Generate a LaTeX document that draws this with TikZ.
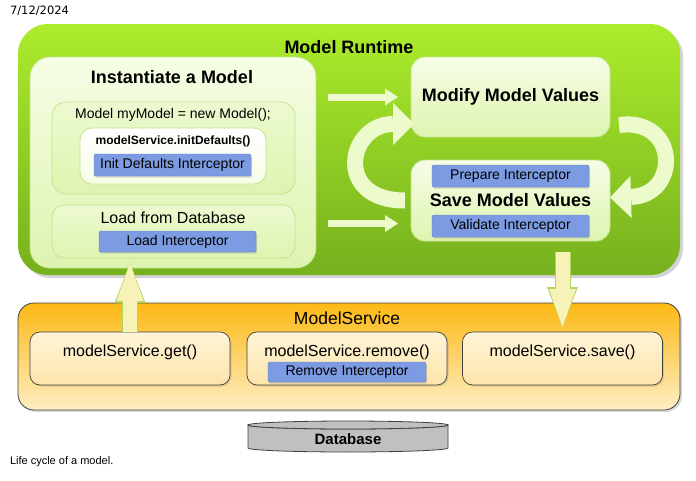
\documentclass[tikz,border=0pt]{standalone}
\usepackage{fontspec}
\setmainfont{Liberation Sans}
\newfontfamily\datefont{DejaVu Sans}
\usetikzlibrary{arrows.meta,shadows}

\definecolor{rtTop}{RGB}{172,236,44}
\definecolor{rtBot}{RGB}{118,176,30}
\definecolor{paleTop}{RGB}{246,253,230}
\definecolor{paleBot}{RGB}{222,244,176}
\definecolor{paleEdge}{RGB}{196,228,140}
\definecolor{icBlue}{RGB}{125,155,226}
\definecolor{icEdge}{RGB}{98,128,200}
\definecolor{svcTop}{RGB}{253,184,19}
\definecolor{svcBot}{RGB}{254,238,196}
\definecolor{subTop}{RGB}{255,244,216}
\definecolor{subBot}{RGB}{253,228,170}
\definecolor{darkEdge}{RGB}{64,64,64}
\definecolor{arrowPale}{RGB}{236,250,204}
\definecolor{arrowYel}{RGB}{246,242,184}
\definecolor{arrowEdge}{RGB}{176,214,96}
\definecolor{dbGray}{RGB}{192,192,192}

\begin{document}
\begin{tikzpicture}[x=1pt,y=-1pt,
	every node/.style={inner sep=0pt,outer sep=0pt},
	rtbox/.style={rounded corners=30pt,top color=rtTop,bottom color=rtBot,
		drop shadow={shadow xshift=3pt,shadow yshift=-3pt,opacity=0.35}},
	palebox/.style={rounded corners=16pt,top color=paleTop,bottom color=paleBot,draw=paleEdge,line width=0.8pt},
	whitebox/.style={rounded corners=12pt,top color=white,bottom color=paleTop,draw=paleEdge,line width=0.8pt},
	icbox/.style={rounded corners=1.5pt,fill=icBlue,draw=icEdge,line width=0.4pt,
		minimum width=157pt,minimum height=22pt,font=\fontsize{14}{16}\selectfont,
		drop shadow={shadow xshift=1pt,shadow yshift=-1.5pt,opacity=0.3}},
	svcbox/.style={rounded corners=16pt,top color=svcTop,bottom color=svcBot,draw=darkEdge,line width=0.8pt,
		drop shadow={shadow xshift=2pt,shadow yshift=-2pt,opacity=0.3}},
	subbox/.style={rounded corners=10pt,top color=subTop,bottom color=subBot,draw=darkEdge,line width=0.7pt,
		minimum width=200pt,minimum height=53pt,
		drop shadow={shadow xshift=1.5pt,shadow yshift=-1.5pt,opacity=0.25}},
	bigtitle/.style={font=\fontsize{18}{21}\selectfont\bfseries},
	plaintext/.style={font=\fontsize{14}{17}\selectfont},
	subtext/.style={font=\fontsize{16}{19}\selectfont},
	flatarrow/.style={draw=arrowPale,line width=7pt,-{Triangle[length=13pt,width=17pt,line width=0pt]},
		shorten <=12pt,shorten >=13pt},
	curvearrow/.style={draw=arrowPale,line width=16pt,-{Triangle[length=21pt,width=42pt,line width=0pt]}},
	vbarrow/.style={draw=arrowYel,line width=14pt,-{Triangle[length=38pt,width=27pt,line width=0pt]},
		preaction={draw=arrowEdge,line width=16pt,-{Triangle[length=40pt,width=31pt,line width=0pt]}}}]
\useasboundingbox (0,0) rectangle (696,480);

\node[anchor=west,font=\datefont\fontsize{11.5}{13}\selectfont] (date) at (10,11) {7/12/2024};

% runtime part
\node[rtbox,minimum width=662pt,minimum height=251pt] (runtime) at (349,149.5) {};
\node[bigtitle] (rttitle) at (349,47) {Model Runtime};

\node[palebox,rounded corners=20pt,minimum width=286pt,minimum height=211pt] (inst) at (173,162.5) {};
\node[bigtitle] (insttitle) at (172,77) {Instantiate a Model};

\node[palebox,rounded corners=14pt,minimum width=243pt,minimum height=92pt,top color=paleTop!60!paleBot] (newbox) at (173.5,148) {};
\node[plaintext] (newtext) at (173,115) {Model myModel = new Model();};
\node[whitebox,minimum width=186pt,minimum height=56pt] (initbox) at (173,156) {};
\node[font=\fontsize{12}{14}\selectfont\bfseries] (inittext) at (173,141) {modelService.initDefaults()};
\node[icbox] (initic) at (172.5,165) {Init Defaults Interceptor};

\node[palebox,rounded corners=12pt,minimum width=243pt,minimum height=53pt,top color=paleTop!60!paleBot] (loadbox) at (173.5,231.5) {};
\node[subtext] (loadtext) at (173,218) {Load from Database};
\node[icbox,minimum height=21pt] (loadic) at (177.5,241.5) {Load Interceptor};

\node[palebox,rounded corners=14pt,minimum width=199pt,minimum height=80pt,bigtitle] (modify) at (510.5,97) {Modify Model Values};
\node[palebox,rounded corners=14pt,minimum width=199pt,minimum height=81pt,bigtitle] (save) at (510.5,200.5) {Save Model Values};
\node[icbox] (prepic) at (510.5,176) {Prepare Interceptor};
\node[icbox] (validic) at (510.5,226) {Validate Interceptor};

% arrows inside the runtime
\coordinate (savein) at ([yshift=-23pt]save.west);
\draw[flatarrow] (inst.east |- modify.west) -- (modify.west);
\draw[flatarrow] (inst.east |- savein) -- (savein);
\draw[curvearrow] ([xshift=-6pt]save.west) .. controls +(-72,0) and +(-66,0) .. ([shift={(3pt,13pt)}]modify.south west);
\draw[curvearrow] ([shift={(9pt,12pt)}]modify.south east) .. controls +(60,-8) and +(70,-2) .. ([yshift=3pt]save.east);

% service part
\node[svcbox,minimum width=662pt,minimum height=107pt] (service) at (349,356.5) {};
\node[font=\fontsize{17.5}{20}\selectfont] (svctitle) at (347,318) {ModelService};
\node[subbox] (getbox) at (130,358.5) {};
\node[subbox] (removebox) at (347,358.5) {};
\node[subbox] (savebox) at (562.5,358.5) {};
\node[subtext] (gettext) at (130,352) {modelService.get()};
\node[subtext] (removetext) at (347,352) {modelService.remove()};
\node[subtext] (savetext) at (562.5,352) {modelService.save()};
\node[icbox,minimum width=158pt,minimum height=20pt] (removeic) at (347,372) {Remove Interceptor};

\draw[vbarrow,shorten >=5pt] (getbox.north) -- (getbox.north |- loadbox.south);
\draw[vbarrow,shorten <=11pt,shorten >=5pt] (savebox.north |- save.south) -- (savebox.north);

% database
\filldraw[fill=dbGray,draw=darkEdge,line width=0.8pt] (248,425) -- (248,448)
	arc[start angle=180,end angle=0,x radius=100,y radius=4] -- (448,425)
	arc[start angle=0,end angle=180,x radius=100,y radius=4] -- cycle;
\draw[fill=dbGray,draw=darkEdge,line width=0.8pt] (348,425) ellipse[x radius=100,y radius=4];
\node[font=\fontsize{15}{18}\selectfont\bfseries] (db) at (348,439) {Database};

\node[anchor=west,font=\fontsize{11}{13}\selectfont] (caption) at (10,462) {Life cycle of a model.};
\end{tikzpicture}
\end{document}
